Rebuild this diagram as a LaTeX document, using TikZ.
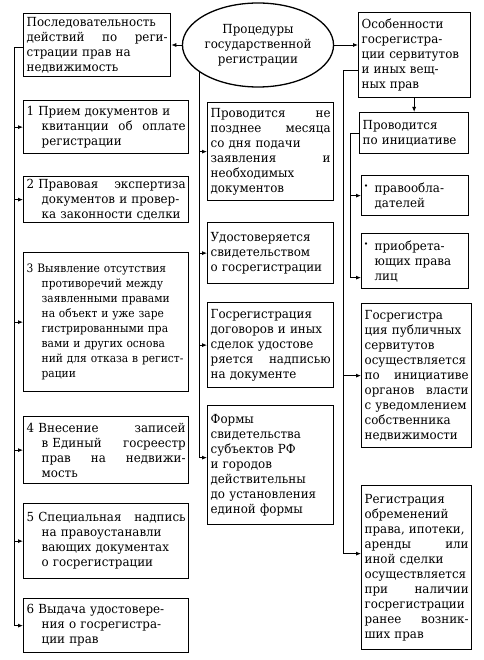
\documentclass[tikz,border=0pt]{standalone}
\usepackage{fontspec}
\setmainfont{DejaVu Serif}[FakeStretch=0.95]
\newfontfamily\narrowfont{DejaVu Serif}[FakeStretch=0.92]
\usetikzlibrary{arrows.meta,shapes.geometric}
\pgfdeclarelayer{bg}
\pgfsetlayers{bg,main}
\newcommand\hf{\hskip 0pt plus 1filll\relax}
\newcommand\ind{\hspace*{15pt}}
\newcommand\bul{\makebox[0.8em][l]{\raisebox{0.75ex}{\scalebox{0.5}{$\bullet$}}}}
\newcommand\bin{\hspace*{0.8em}}
\begin{document}
\begin{tikzpicture}[x=1pt,y=-1pt,
  box/.style={draw, line width=1.3pt, fill=white, align=left, inner xsep=3pt, inner ysep=2pt,
    font=\fontsize{12.5}{15}\selectfont, anchor=north west},
  lbox/.style={box, font=\narrowfont\fontsize{11.6}{15}\selectfont},
  conn/.style={line width=0.8pt},
  arr/.style={conn, -{Latex[length=5pt,width=4pt]}}]
\useasboundingbox (0,0) rectangle (483,660);

% ellipse
\node[draw, ellipse, line width=1.3pt, fill=white, minimum width=138pt, minimum height=84pt,
  inner sep=0pt, align=center, font=\fontsize{12.5}{15}\selectfont] (E) at (258,45)
  {Процедуры\\государственной\\регистрации};

% left column
\node[box, minimum width=147pt, minimum height=63pt, text width=141pt] (L0) at (23,13)
  {Последовательность\\ действий \hf по \hf реги-\\ страции прав на\\ недвижимость};
\node[box, minimum width=165pt, minimum height=53pt, text width=159pt] (L1) at (23,100)
  {1 Прием документов и\\ \ind квитанции \hf об \hf оплате\\ \ind регистрации};
\node[box, minimum width=165pt, minimum height=46pt, text width=159pt] (L2) at (23,176)
  {2 Правовая \hf экспертиза\\ \ind документов и провер-\\ \ind ка законности сделки};
\node[lbox, minimum width=165pt, minimum height=139pt, text width=159pt] (L3) at (23,252)
  {3 Выявление отсутствия\\ \ind противоречий между\\ \ind заявленными правами\\ \ind на объект и уже заре\\ \ind гистрированными пра\\ \ind вами и других основа\\ \ind ний для отказа в регист-\\ \ind рации};
\node[box, minimum width=165pt, minimum height=67pt, text width=159pt] (L4) at (23,416)
  {4 Внесение \hf записей\\ \ind в Единый \hf госреестр\\ \ind прав \hf на \hf недвижи-\\ \ind мость};
\node[box, minimum width=165pt, minimum height=75pt, text width=159pt] (L5) at (23,503)
  {5 Специальная \hf надпись\\ \ind на правоустанавли\\ \ind вающих документах\\ \ind о госрегистрации};
\node[box, minimum width=165pt, minimum height=54pt, text width=159pt] (L6) at (23,598)
  {6 Выдача удостовере-\\ \ind ния о госрегистра-\\ \ind ции прав};

% middle column
\node[box, minimum width=126pt, minimum height=98pt, text width=120pt] (M1) at (207,102)
  {Проводится \hf не\\ позднее \hf месяца\\ со дня подачи\\ заявления \hf и\\ необходимых\\ документов};
\node[box, minimum width=126pt, minimum height=61pt, text width=120pt] (M2) at (207,222)
  {Удостоверяется\\ свидетельством\\ о госрегистрации};
\node[box, minimum width=126pt, minimum height=85pt, text width=120pt] (M3) at (207,302)
  {Госрегистрация\\ договоров и иных\\ сделок удостове\\ ряется \hf надписью\\ на документе};
\node[box, minimum width=126pt, minimum height=119pt, text width=120pt] (M4) at (207,405)
  {Формы\\ свидетельства\\ субъектов РФ\\ и городов\\ действительны\\ до установления\\ единой формы};

% right column
\node[box, minimum width=112pt, minimum height=85pt, text width=106pt] (R0) at (358,12)
  {Особенности\\ госрегистра-\\ ции сервитутов\\ и иных вещ-\\ ных прав};
\node[box, minimum width=109pt, minimum height=41pt, text width=103pt] (R1) at (359,112)
  {Проводится\\ по инициативе};
\node[box, minimum width=107pt, minimum height=40pt, text width=101pt] (R1a) at (361,175)
  {\bul правообла-\\ \bin дателей};
\node[box, minimum width=107pt, minimum height=55pt, text width=101pt] (R1b) at (361,233)
  {\bul приобрета-\\ \bin ющих права\\ \bin лиц};
\node[box, minimum width=110pt, minimum height=144pt, text width=104pt] (R2) at (361,303)
  {Госрегистра\\ ция публичных\\ сервитутов\\ осуществляется\\ по \hf инициативе\\ органов \hf власти\\ с уведомлением\\ собственника\\ недвижимости};
\node[box, minimum width=110pt, minimum height=164pt, text width=104pt] (R3) at (361,485)
  {Регистрация\\ обременений\\ права, ипотеки,\\ аренды \hf или\\ иной сделки\\ осуществляется\\ при \hf наличии\\ госрегистрации\\ ранее \hf возник-\\ ших прав};

% trunk coordinates and shifted arrow ends
\coordinate (lt) at (14,47);
\coordinate (mt) at (199,47);
\coordinate (rt) at (343,70);
\coordinate (st) at (350,0);
\coordinate (M4a) at ([yshift=7.5pt]M4.west);
\coordinate (R3a) at ([yshift=14pt]R3.west);
\coordinate (R1ba) at ([yshift=-16.5pt]R1b.west);

% ellipse arrows
\draw[arr] (E.west) -- (E.west -| L0.east);
\draw[arr] (E.east) -- (E.east -| R0.west);

% left trunk
\draw[conn] (L0.west |- lt) -- (lt) -- (lt |- L6.west);
\foreach \n in {L1,L2,L3,L4,L5,L6}
  \draw[arr] (lt |- \n.west) -- (\n.west);

% middle trunk (under the ellipse)
\begin{pgfonlayer}{bg}
\draw[conn] (E.center -| mt) -- (mt |- M4a);
\end{pgfonlayer}
\foreach \n in {M1,M2,M3}
  \draw[arr] (mt |- \n.west) -- (\n.west);
\draw[arr] (mt |- M4a) -- (M4a);

% right trunk
\draw[conn] (R0.west |- rt) -- (rt) -- (rt |- R3a);
\draw[arr] (rt |- R2.west) -- (R2.west);
\draw[arr] (rt |- R3a) -- (R3a);

% R0 -> R1
\draw[arr] (R0.south -| R1.north) -- (R1.north);

% sub trunk
\draw[conn] (R1.west) -- (st |- R1.west) -- (st |- R1ba);
\draw[arr] (st |- R1a.west) -- (R1a.west);
\draw[arr] (st |- R1ba) -- (R1ba);
\end{tikzpicture}
\end{document}
